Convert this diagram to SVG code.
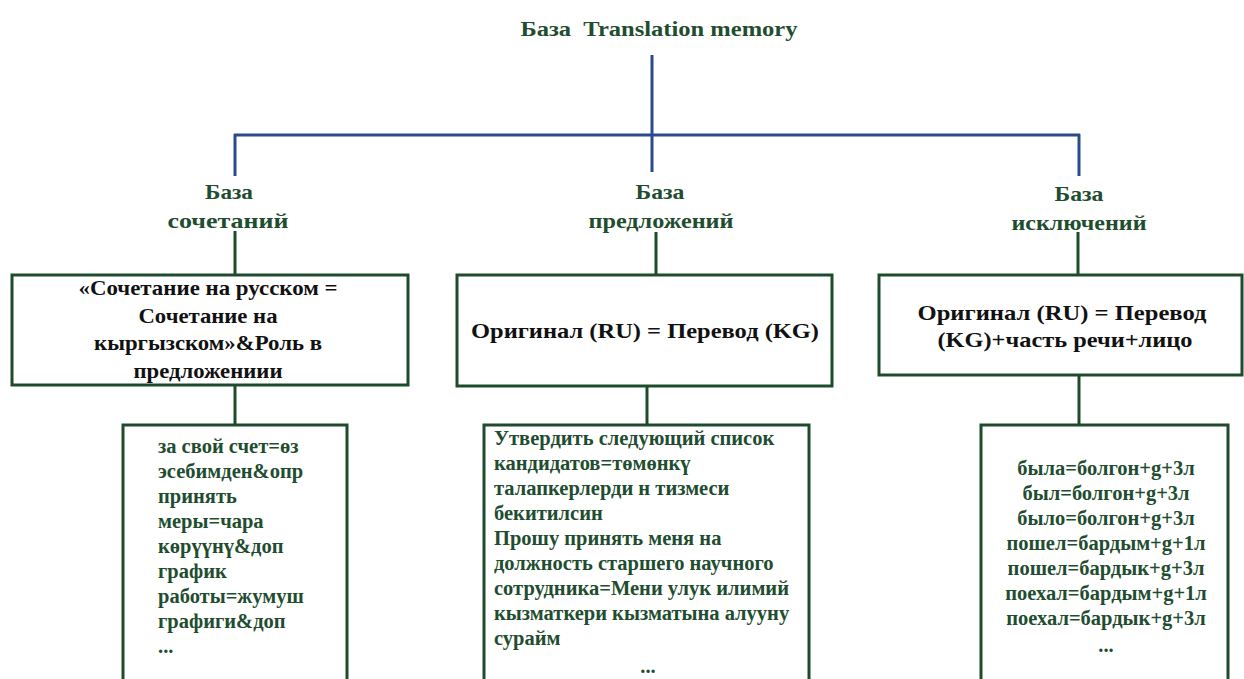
<svg xmlns="http://www.w3.org/2000/svg" width="1244" height="679" viewBox="0 0 1244 679">
  <style>
    .head { font-family: "Liberation Serif", "Times New Roman", serif; font-weight: bold; fill: #1f4d30; text-anchor: middle; }
    .t1 { font-size: 20px; }
    .t2 { font-size: 22px; }
    .box { fill: #ffffff; stroke: #1e4b2b; stroke-width: 3; }
    .rule { font-family: "Liberation Serif", "Times New Roman", serif; font-weight: bold; font-size: 21px; fill: #111111; text-anchor: middle; }
    .ex { font-family: "Liberation Serif", "Times New Roman", serif; font-weight: bold; font-size: 20.5px; fill: #1f4d30; }
    .mid { text-anchor: middle; }
    .blue { stroke: #2a4a8c; stroke-width: 3; fill: none; }
    .green { stroke: #1e4b2b; stroke-width: 3; fill: none; }
  </style>

  <rect width="1244" height="679" fill="#ffffff"/>

  <!-- connectors -->
  <g id="connectors">
    <line class="blue" x1="652" y1="55" x2="652" y2="172"/>
    <line class="blue" x1="234" y1="135" x2="1080" y2="135" stroke-width="4"/>
    <line class="blue" x1="235" y1="134" x2="235" y2="176"/>
    <line class="blue" x1="1079" y1="134" x2="1079" y2="176"/>
    <line class="green" x1="235" y1="231" x2="235" y2="275"/>
    <line class="green" x1="656" y1="232" x2="656" y2="275"/>
    <line class="green" x1="1078" y1="232" x2="1078" y2="275"/>
    <line class="green" x1="235" y1="385" x2="235" y2="425"/>
    <line class="green" x1="647" y1="386" x2="647" y2="425"/>
    <line class="green" x1="1079" y1="375" x2="1079" y2="425"/>
  </g>

  <!-- root -->
  <g id="root">
    <text class="head t1" x="659" y="36" textLength="277" lengthAdjust="spacingAndGlyphs" xml:space="preserve">База  Translation memory</text>
  </g>

  <!-- second level -->
  <g id="base-combinations">
    <text class="head t2" x="229" y="199" textLength="48" lengthAdjust="spacingAndGlyphs">База</text>
    <text class="head t2" x="228" y="228" textLength="121" lengthAdjust="spacingAndGlyphs">сочетаний</text>
  </g>
  <g id="base-sentences">
    <text class="head t2" x="660" y="199" textLength="49" lengthAdjust="spacingAndGlyphs">База</text>
    <text class="head t2" x="661" y="228" textLength="145" lengthAdjust="spacingAndGlyphs">предложений</text>
  </g>
  <g id="base-exceptions">
    <text class="head t2" x="1079" y="201" textLength="49" lengthAdjust="spacingAndGlyphs">База</text>
    <text class="head t2" x="1079" y="230" textLength="135" lengthAdjust="spacingAndGlyphs">исключений</text>
  </g>

  <!-- third level: record formats -->
  <g id="format-combinations">
    <rect class="box" x="12" y="275" width="396" height="110"/>
    <text class="rule" x="208" y="295" textLength="259" lengthAdjust="spacingAndGlyphs">«Сочетание на русском =</text>
    <text class="rule" x="208" y="323" textLength="139" lengthAdjust="spacingAndGlyphs">Сочетание на</text>
    <text class="rule" x="208" y="350" textLength="228" lengthAdjust="spacingAndGlyphs">кыргызском»&amp;Роль в</text>
    <text class="rule" x="208" y="378" textLength="149" lengthAdjust="spacingAndGlyphs">предложениии</text>
  </g>
  <g id="format-sentences">
    <rect class="box" x="457" y="275" width="375" height="111"/>
    <text class="rule" x="645" y="338" textLength="348" lengthAdjust="spacingAndGlyphs">Оригинал (RU) = Перевод (KG)</text>
  </g>
  <g id="format-exceptions">
    <rect class="box" x="879" y="275" width="363" height="100"/>
    <text class="rule" x="1062" y="320" textLength="289" lengthAdjust="spacingAndGlyphs">Оригинал (RU) = Перевод</text>
    <text class="rule" x="1065" y="347" textLength="255" lengthAdjust="spacingAndGlyphs">(KG)+часть речи+лицо</text>
  </g>

  <!-- fourth level: examples -->
  <g id="examples-combinations">
    <rect class="box" x="123" y="425" width="224" height="270"/>
    <text class="ex" x="158" y="453">за свой счет=өз</text>
    <text class="ex" x="158" y="478">эсебимден&amp;опр</text>
    <text class="ex" x="158" y="503">принять</text>
    <text class="ex" x="158" y="528">меры=чара</text>
    <text class="ex" x="158" y="553">көрүүнү&amp;доп</text>
    <text class="ex" x="158" y="578">график</text>
    <text class="ex" x="158" y="603">работы=жумуш</text>
    <text class="ex" x="158" y="628">графиги&amp;доп</text>
    <text class="ex" x="158" y="653">...</text>
  </g>
  <g id="examples-sentences">
    <rect class="box" x="484" y="425" width="325" height="270"/>
    <text class="ex" x="494" y="445">Утвердить следующий список</text>
    <text class="ex" x="494" y="470">кандидатов=төмөнкү</text>
    <text class="ex" x="494" y="495">талапкерлерди н тизмеси</text>
    <text class="ex" x="494" y="520">бекитилсин</text>
    <text class="ex" x="494" y="545">Прошу принять меня на</text>
    <text class="ex" x="494" y="570">должность старшего научного</text>
    <text class="ex" x="494" y="595">сотрудника=Мени улук илимий</text>
    <text class="ex" x="494" y="620">кызматкери кызматына алууну</text>
    <text class="ex" x="494" y="645">сурайм</text>
    <text class="ex mid" x="648" y="673">...</text>
  </g>
  <g id="examples-exceptions">
    <rect class="box" x="981" y="425" width="247" height="270"/>
    <text class="ex mid" x="1106" y="475">была=болгон+g+3л</text>
    <text class="ex mid" x="1106" y="500">был=болгон+g+3л</text>
    <text class="ex mid" x="1106" y="525">было=болгон+g+3л</text>
    <text class="ex mid" x="1106" y="550">пошел=бардым+g+1л</text>
    <text class="ex mid" x="1106" y="575">пошел=бардык+g+3л</text>
    <text class="ex mid" x="1106" y="600">поехал=бардым+g+1л</text>
    <text class="ex mid" x="1106" y="625">поехал=бардык+g+3л</text>
    <text class="ex mid" x="1106" y="652">...</text>
  </g>
</svg>
